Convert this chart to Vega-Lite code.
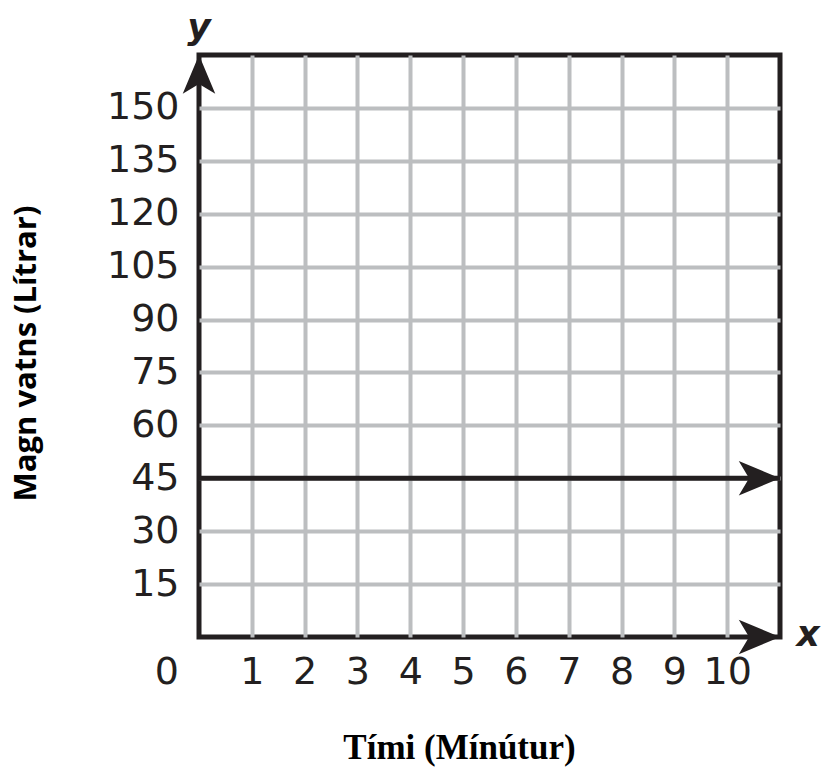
{
  "$schema": "https://vega.github.io/schema/vega-lite/v6.json",
  "autosize": {"type": "none"},
  "padding": {"left": 199, "top": 55, "right": 47, "bottom": 135},
  "width": 581,
  "height": 582,
  "background": "white",
  "config": {
    "view": {"stroke": "#231F20", "strokeWidth": 5},
    "axis": {"gridColor": "#BCBEC0", "gridWidth": 4, "gridOpacity": 1}
  },
  "datasets": {
    "series": [{"t": 0, "v": 45}, {"t": 11, "v": 45}],
    "upArrow": [{"t": 0, "v": 165}],
    "rightArrows": [{"t": 11, "v": 0}, {"t": 11, "v": 45}],
    "origin": [{"t": 0, "v": 0, "label": "0"}],
    "yName": [{"t": 0, "v": 165, "label": "y"}],
    "xName": [{"t": 11, "v": 0, "label": "x"}]
  },
  "layer": [
    {
      "data": {"name": "series"},
      "mark": {"type": "line", "color": "#231F20", "strokeWidth": 5, "strokeCap": "butt"},
      "encoding": {
        "x": {
          "field": "t", "type": "quantitative",
          "scale": {"domain": [0, 11], "nice": false, "zero": false},
          "axis": {
            "values": [1, 2, 3, 4, 5, 6, 7, 8, 9, 10],
            "domain": false, "ticks": false, "tickSize": 0,
            "labelFont": "DejaVu Sans", "labelFontSize": 38, "labelColor": "#231F20",
            "labelPadding": 35, "labelBaseline": "middle", "labelFlush": false,
            "title": "Tími (Mínútur)",
            "titleFont": "Liberation Serif", "titleFontSize": 35, "titleFontWeight": "bold",
            "titleColor": "#000000", "titleX": 260, "titleY": 110,
            "titleAnchor": null, "titleAlign": "center", "titleBaseline": "middle"
          }
        },
        "y": {
          "field": "v", "type": "quantitative",
          "scale": {"domain": [0, 165], "nice": false, "zero": false},
          "axis": {
            "values": [15, 30, 45, 60, 75, 90, 105, 120, 135, 150],
            "domain": false, "ticks": false, "tickSize": 0,
            "labelFont": "DejaVu Sans", "labelFontSize": 38, "labelColor": "#231F20",
            "labelPadding": 20, "labelBaseline": "middle", "labelAlign": "right", "labelFlush": false,
            "title": "Magn vatns (Lítrar)",
            "titleFont": "Open Sans", "titleFontSize": 31, "titleFontWeight": "bold",
            "titleColor": "#000000", "titleX": -173, "titleY": 298, "titleAngle": -90,
            "titleAnchor": null, "titleAlign": "center", "titleBaseline": "middle"
          }
        }
      }
    },
    {
      "data": {"name": "upArrow"},
      "mark": {"type": "point", "shape": "M0,0 L0.42,1 L0,0.75 L-0.42,1 Z", "size": 6000, "filled": true, "color": "#231F20", "opacity": 1, "clip": false},
      "encoding": {
        "x": {"field": "t", "type": "quantitative"},
        "y": {"field": "v", "type": "quantitative"}
      }
    },
    {
      "data": {"name": "rightArrows"},
      "mark": {"type": "point", "shape": "M0,0 L-1,-0.42 L-0.75,0 L-1,0.42 Z", "size": 6800, "filled": true, "color": "#231F20", "opacity": 1, "clip": false},
      "encoding": {
        "x": {"field": "t", "type": "quantitative"},
        "y": {"field": "v", "type": "quantitative"}
      }
    },
    {
      "data": {"name": "origin"},
      "mark": {"type": "text", "font": "DejaVu Sans", "fontSize": 38, "color": "#231F20", "align": "right", "baseline": "middle", "dx": -20, "dy": 36, "clip": false},
      "encoding": {
        "x": {"field": "t", "type": "quantitative"},
        "y": {"field": "v", "type": "quantitative"},
        "text": {"field": "label"}
      }
    },
    {
      "data": {"name": "yName"},
      "mark": {"type": "text", "font": "DejaVu Sans", "fontSize": 36, "fontWeight": "bold", "fontStyle": "italic", "color": "#231F20", "align": "center", "baseline": "middle", "dy": -27, "clip": false},
      "encoding": {
        "x": {"field": "t", "type": "quantitative"},
        "y": {"field": "v", "type": "quantitative"},
        "text": {"field": "label"}
      }
    },
    {
      "data": {"name": "xName"},
      "mark": {"type": "text", "font": "DejaVu Sans", "fontSize": 36, "fontWeight": "bold", "fontStyle": "italic", "color": "#231F20", "align": "center", "baseline": "middle", "dx": 28, "dy": -2, "clip": false},
      "encoding": {
        "x": {"field": "t", "type": "quantitative"},
        "y": {"field": "v", "type": "quantitative"},
        "text": {"field": "label"}
      }
    }
  ]
}
